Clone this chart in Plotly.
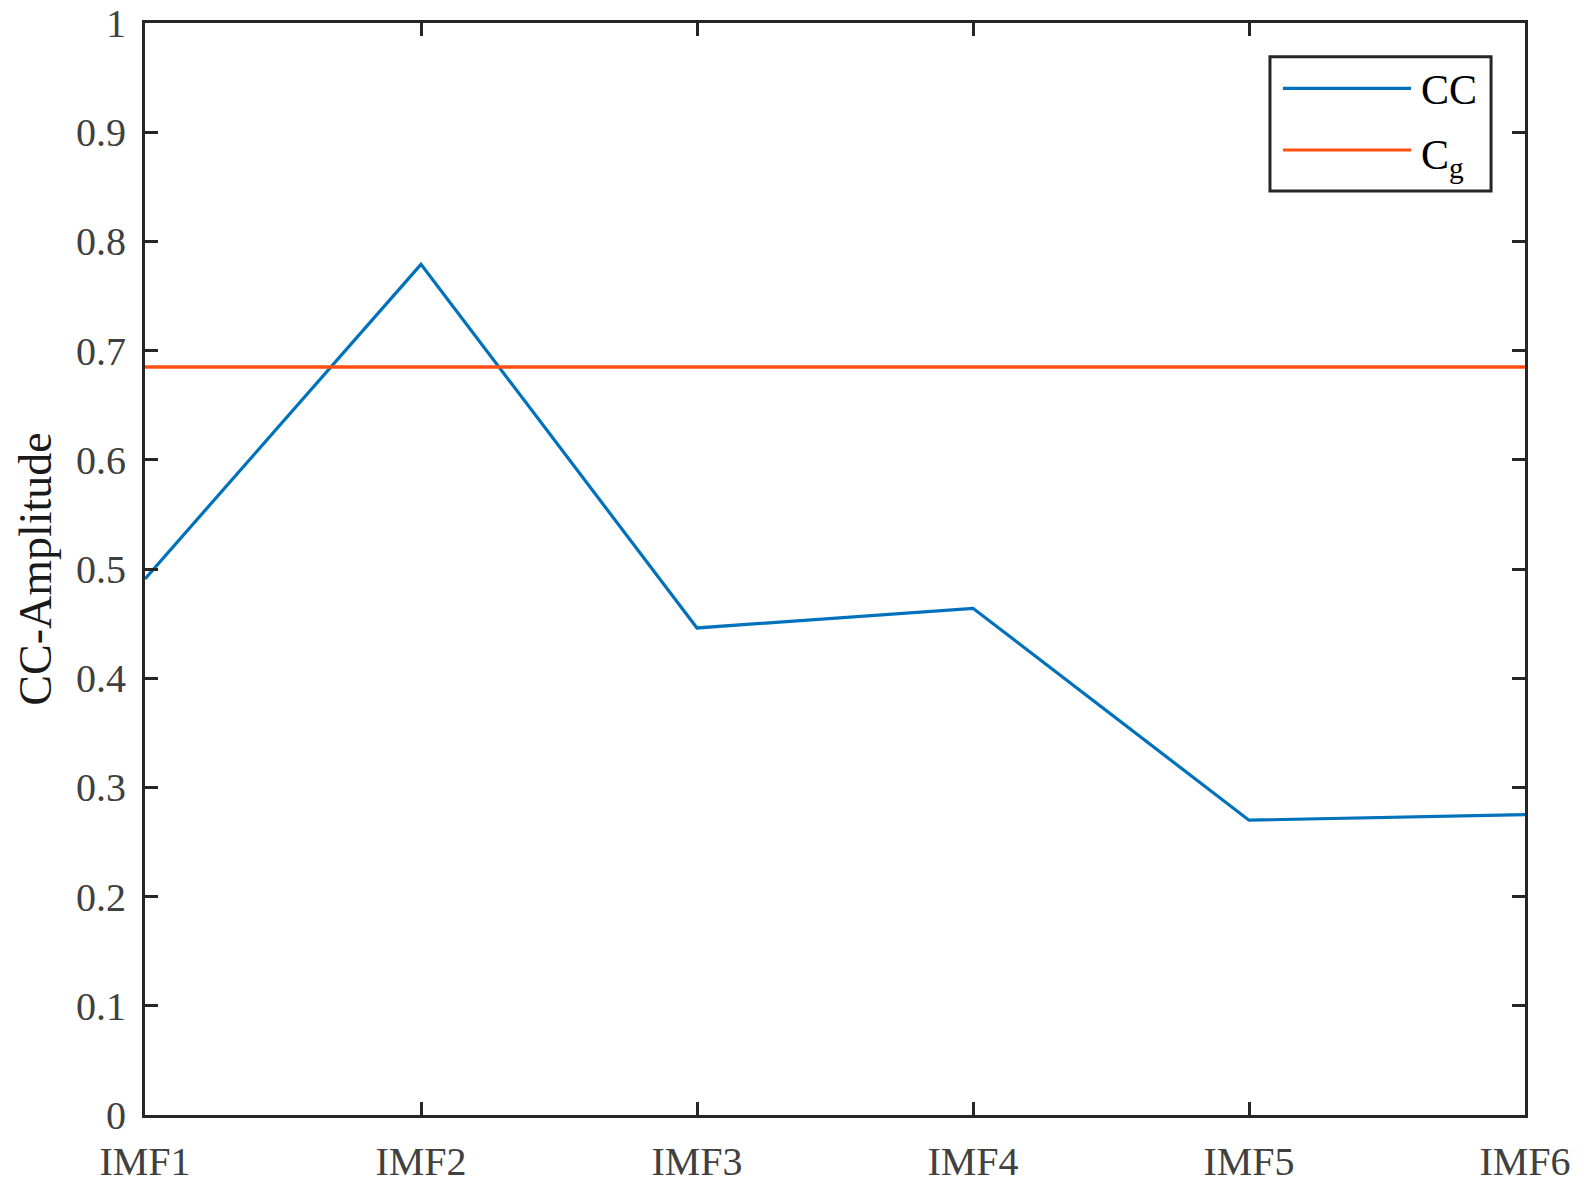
import plotly.graph_objects as go

# Data
imf_labels = ["IMF1", "IMF2", "IMF3", "IMF4", "IMF5", "IMF6"]
cc_values = [0.491, 0.779, 0.446, 0.464, 0.270, 0.275]
cg_value = 0.685
y_ticks = [0, 0.1, 0.2, 0.3, 0.4, 0.5, 0.6, 0.7, 0.8, 0.9, 1]

BLUE = "#0072BD"
ORANGE = "#FF4F0F"
AXIS = "#262626"
SERIF = "Liberation Serif, Times New Roman, serif"
TICKFONT = {"family": SERIF, "size": 40, "color": "#404040"}

fig = go.Figure()
fig.add_trace(go.Scatter(
    x=imf_labels,
    y=cc_values,
    mode="lines",
    name="CC",
    line={"color": BLUE, "width": 3.2},
))
fig.add_trace(go.Scatter(
    x=imf_labels,
    y=[cg_value] * len(imf_labels),
    mode="lines",
    name="C<sub>g</sub>",
    line={"color": ORANGE, "width": 3.6},
))

axis_common = dict(
    showline=True,
    linecolor=AXIS,
    linewidth=3,
    mirror="ticks",
    ticks="inside",
    ticklen=13,
    tickwidth=3,
    tickcolor=AXIS,
    showgrid=False,
    zeroline=False,
    automargin=False,
    ticklabeloverflow="allow",
    tickfont=TICKFONT,
)

fig.update_xaxes(
    type="category",
    range=[0, len(imf_labels) - 1],
    ticklabelstandoff=9,
    **axis_common,
)
fig.update_yaxes(
    range=[0, 1],
    tickvals=y_ticks,
    ticktext=[f"{v:g}" for v in y_ticks],
    ticklabelstandoff=8,
    title={
        "text": "CC-Amplitude",
        "font": {"family": SERIF, "size": 46, "color": "#1a1a1a"},
        "standoff": 10,
    },
    **axis_common,
)

# Legend drawn by hand so the sample lines match the long MATLAB style
fig.add_shape(type="rect", xref="paper", yref="paper", x0=0.8152, x1=0.9754,
              y0=0.8462, y1=0.9691, line={"color": AXIS, "width": 3},
              fillcolor="white", layer="above")
legend_items = [("CC", BLUE, 0.9402, 0.9390), ("C<sub>g</sub>", ORANGE, 0.8837, 0.8760)]
for name, color, line_y, text_y in legend_items:
    fig.add_shape(type="line", xref="paper", yref="paper", x0=0.8246, x1=0.9174,
                  y0=line_y, y1=line_y, line={"color": color, "width": 3.2}, layer="above")
    fig.add_annotation(xref="paper", yref="paper", x=0.9235, y=text_y, text=name,
                       showarrow=False, xanchor="left", yanchor="middle",
                       font={"family": SERIF, "size": 42, "color": "black"})

# the page body adds an 8px offset, so the margins are shifted to compensate
fig.update_layout(
    width=1584,
    height=1201,
    showlegend=False,
    plot_bgcolor="white",
    paper_bgcolor="white",
    margin={"l": 137, "r": 67, "t": 15, "b": 94},
)

fig.write_html("out.html")
